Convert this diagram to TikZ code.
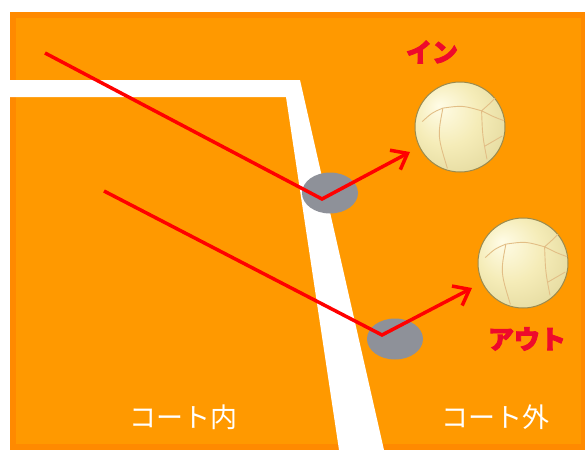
\documentclass[tikz,border=0pt]{standalone}
\usepackage{fontspec}
\newfontfamily\jpfont{Noto Sans CJK JP}
\newfontfamily\jpheavy{Noto Sans CJK JP}[BoldFeatures={FakeBold=3}]
\usetikzlibrary{arrows.meta,shapes.geometric}

\definecolor{courtorange}{HTML}{FF9900}
\definecolor{courtedge}{HTML}{FF8A00}
\definecolor{spotgray}{HTML}{8E9199}
\definecolor{pathred}{HTML}{FF0000}
\definecolor{callred}{HTML}{EE0A2C}
\definecolor{ballhi}{HTML}{FFFCE6}
\definecolor{ballmid}{HTML}{F5ECB8}
\definecolor{ballrim}{HTML}{DCD192}
\definecolor{balledge}{HTML}{9A8A4E}
\definecolor{seam}{HTML}{E2BE86}

% cream ball, lit from the upper left
\pgfdeclareradialshading{vball}{\pgfpoint{-12bp}{12bp}}{%
  color(0bp)=(ballhi); color(18bp)=(ballmid); color(42bp)=(ballrim);
  color(50bp)=(balledge!60!ballrim)}

% panel seams, unit = ball radius, y pointing down
\newcommand\ballseams{%
  \draw[seam, line width=0.9pt]
    (-0.84,-0.12) .. controls (-0.62,-0.32) .. (-0.38,-0.42)
    (-0.38,-0.42) .. controls (0.05,-0.48) .. (0.48,-0.36)
    (-0.38,-0.42) .. controls (-0.5,0.2) .. (-0.28,0.92)
    (0.48,-0.36) .. controls (0.5,0.2) .. (0.6,0.72)
    (0.48,-0.36) .. controls (0.66,-0.52) .. (0.78,-0.64)
    (0.48,-0.36) .. controls (0.76,-0.22) .. (0.98,-0.14)
    (0.56,0.42) .. controls (0.76,0.3) .. (0.94,0.2);}

\begin{document}
\begin{tikzpicture}[x=1pt, y=-1pt,
    spot/.style={ellipse, fill=spotgray, minimum width=56pt, minimum height=41pt, inner sep=0pt},
    ball/.style={circle, minimum size=90pt, inner sep=0pt, shading=vball, draw=balledge, line width=1pt},
    trail/.style={draw=pathred, line width=3.5pt, -{Straight Barb[length=14pt,width=22pt]}},
    call/.style={text=callred, font=\jpheavy\bfseries\fontsize{26pt}{28pt}\selectfont},
    side/.style={text=white, font=\jpfont\fontsize{27pt}{29pt}\selectfont}]
    \useasboundingbox (0,0) rectangle (585,450);

    % court with its darker rim
    \fill[courtedge] (10,12) rectangle (585,450);
    \fill[courtorange] (16,18) rectangle (581,444);
    % boundary line
    \fill[white] (0,80) -- (300,80) -- (384,450) -- (339,450) -- (286,97) -- (0,97) -- cycle;

    % landing spots
    \node[spot] (land1) at (330,193) {};
    \node[spot] (land2) at (395,339) {};

    % balls
    \node[ball] (ball1) at (460,127) {};
    \node[ball] (ball2) at (523,263) {};
    \foreach \b in {ball1,ball2}{
        \begin{scope}[shift={(\b.center)}, x=45pt, y=-45pt]
            \ballseams
        \end{scope}
    }

    % trails
    \coordinate (start1) at (45,53);
    \coordinate (hit1) at (322,199);
    \coordinate (tip1) at (410,152);
    \coordinate (start2) at (104,191);
    \coordinate (hit2) at (382,335);
    \coordinate (tip2) at (472,288);
    \draw[trail] (start1) -- (hit1) -- (tip1);
    \draw[trail] (start2) -- (hit2) -- (tip2);

    % labels
    \node[call] (in) at (432,52) {イン};
    \node[call] (out) at (527,339) {アウト};
    \node[side] (inside) at (183,417) {コート内};
    \node[side] (outside) at (495,417) {コート外};
\end{tikzpicture}
\end{document}
